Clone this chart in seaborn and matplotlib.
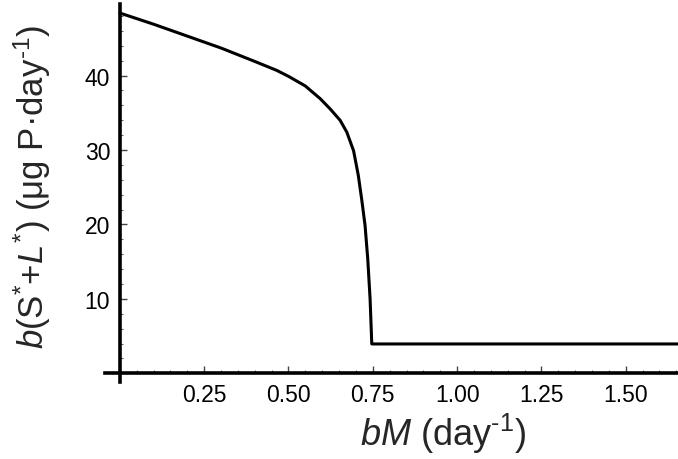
import numpy as np
import pandas as pd
import matplotlib
matplotlib.use("Agg")
import matplotlib.pyplot as plt
import seaborn as sns
from matplotlib.ticker import FixedLocator, MultipleLocator

# values
bM = [0.0, 0.10, 0.20, 0.30, 0.40, 0.465, 0.50, 0.55, 0.594, 0.624, 0.653,
      0.673, 0.693, 0.707, 0.717, 0.727, 0.735, 0.742, 0.747, 1.66]
flux = [48.4, 46.9, 45.3, 43.7, 41.9, 40.7, 39.9, 38.6, 36.9, 35.5, 34.0,
        32.4, 29.9, 26.6, 23.4, 19.9, 15.4, 10.0, 3.95, 3.95]

x_ticks = [0.25, 0.50, 0.75, 1.00, 1.25, 1.50]
x_ticklabels = ["0.25", "0.50", "0.75", "1.00", "1.25", "1.50"]
y_ticks = [10, 20, 30, 40]

sns.set_style("ticks")
plt.rcParams["font.family"] = ["Liberation Sans", "DejaVu Sans"]
plt.rcParams["mathtext.fontset"] = "custom"
plt.rcParams["mathtext.rm"] = "Liberation Sans"
plt.rcParams["mathtext.it"] = "Liberation Sans:italic"

df = pd.DataFrame({"bM": bM, "flux": flux})

fig = plt.figure(figsize=(6.78, 4.60), dpi=100)
ax = fig.add_axes([0.1549, 0.1674, 0.8451, 0.8215])
sns.lineplot(data=df, x="bM", y="flux", color="black", linewidth=2.2, ax=ax)

ax.set_xlim(-0.044, 1.655)
ax.set_ylim(-1.16, 49.6)

for s in ["top", "right"]:
    ax.spines[s].set_visible(False)
ax.spines["left"].set_position(("data", 0))
ax.spines["bottom"].set_position(("data", 0))
for s in ["left", "bottom"]:
    ax.spines[s].set_linewidth(2.6)
    ax.spines[s].set_color("black")

ax.xaxis.set_major_locator(FixedLocator(x_ticks))
ax.set_xticklabels(x_ticklabels)
ax.xaxis.set_minor_locator(MultipleLocator(0.05))
ax.yaxis.set_major_locator(FixedLocator(y_ticks))
ax.yaxis.set_minor_locator(MultipleLocator(2))

ax.tick_params(which="major", direction="in", length=5, width=1.0,
               color="#444444", labelsize=16.5, pad=7, labelcolor="black")
ax.tick_params(which="minor", direction="in", length=2.5, width=0.8,
               color="#666666")

ax.set_xlabel(r"$bM$ (day$^{\text{-}1}$)", fontsize=26)
ax.xaxis.set_label_coords(0.59, -0.075)
ax.set_ylabel(r"$b$(S$^{*}$+$L^{*}$) (μg P·day$^{\text{-}1}$)", fontsize=25)
ax.yaxis.set_label_coords(-0.09, 0.52)

fig.savefig("out.png", dpi=100)
